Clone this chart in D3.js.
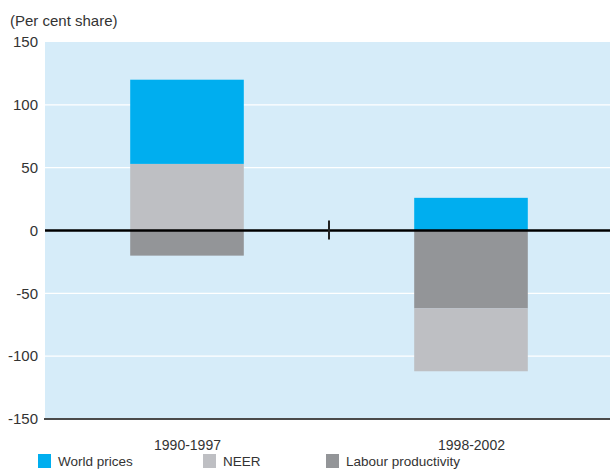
<!DOCTYPE html>
<html>
<head>
<meta charset="utf-8">
<script src="https://cdn.jsdelivr.net/npm/d3@7"></script>
<style>
  html, body { margin: 0; padding: 0; background: #fff; }
  svg { display: block; }
  text { font-family: "Liberation Sans", Arial, Helvetica, sans-serif; fill: #333; }
</style>
</head>
<body>
<svg id="chart" width="610" height="470"></svg>
<script>
// Contributions to the change, per cent share
const categories = ["1990-1997", "1998-2002"];
const worldPrices = [67, 26];
const neer = [53, -50];
const labourProductivity = [-20, -62];
const yTicks = [-150, -100, -50, 0, 50, 100, 150];

const seriesKeys = ["Labour productivity", "NEER", "World prices"];
const seriesValues = {
  "World prices": worldPrices,
  "NEER": neer,
  "Labour productivity": labourProductivity
};
const colors = {
  "World prices": "#00aeef",
  "NEER": "#bebfc3",
  "Labour productivity": "#939598"
};
const legendOrder = ["World prices", "NEER", "Labour productivity"];

const rows = categories.map((c, i) => {
  const r = { category: c };
  seriesKeys.forEach(k => r[k] = seriesValues[k][i]);
  return r;
});

const svg = d3.select("#chart");
const plot = { left: 45, right: 613, top: 42, bottom: 419 };

const x = d3.scalePoint().domain(categories).range([plot.left, plot.right]).padding(0.5);
const y = d3.scaleLinear().domain([-150, 150]).range([plot.bottom, plot.top]);
const barW = x.step() * 0.4;

// background
svg.append("rect")
  .attr("x", plot.left).attr("y", plot.top)
  .attr("width", plot.right - plot.left).attr("height", plot.bottom - plot.top)
  .attr("fill", "#d6ecf9");

// white gridlines
svg.append("g").selectAll("line")
  .data(yTicks.filter(t => t !== 0 && t !== -150 && t !== 150))
  .join("line")
  .attr("x1", plot.left).attr("x2", plot.right)
  .attr("y1", d => y(d)).attr("y2", d => y(d))
  .attr("stroke", "#fff").attr("stroke-width", 1.3);

// stacked bars
const stacked = d3.stack().keys(seriesKeys).offset(d3.stackOffsetDiverging)(rows);
svg.append("g").selectAll("g")
  .data(stacked)
  .join("g")
  .attr("fill", d => colors[d.key])
  .selectAll("rect")
  .data(d => d)
  .join("rect")
  .attr("x", d => x(d.data.category) - barW / 2)
  .attr("width", barW)
  .attr("y", d => y(Math.max(d[0], d[1])))
  .attr("height", d => Math.abs(y(d[0]) - y(d[1])));

// zero line
svg.append("line")
  .attr("x1", plot.left).attr("x2", plot.right)
  .attr("y1", y(0)).attr("y2", y(0))
  .attr("stroke", "#000").attr("stroke-width", 2.5);

// divider tick between the two periods
const mid = (x(categories[0]) + x(categories[1])) / 2;
svg.append("line")
  .attr("x1", mid).attr("x2", mid)
  .attr("y1", y(0) - 10).attr("y2", y(0) + 9)
  .attr("stroke", "#222").attr("stroke-width", 2);

// bottom axis line
svg.append("line")
  .attr("x1", plot.left - 1).attr("x2", plot.right)
  .attr("y1", plot.bottom).attr("y2", plot.bottom)
  .attr("stroke", "#4a4a4a").attr("stroke-width", 2);

// y axis labels (plain hyphen for negatives)
const yAxis = d3.axisLeft(y).tickValues(yTicks).tickSize(0).tickPadding(7)
  .tickFormat(d => String(d));
const gy = svg.append("g").attr("transform", `translate(${plot.left},0)`).call(yAxis);
gy.select(".domain").remove();
gy.selectAll("text")
  .style("font-family", '"Liberation Sans", Arial, sans-serif')
  .style("font-size", "15px").attr("fill", "#333");

// x axis labels
const xAxis = d3.axisBottom(x).tickSize(0).tickPadding(0);
const gx = svg.append("g").attr("transform", `translate(0,${plot.bottom + 21})`).call(xAxis);
gx.select(".domain").remove();
gx.selectAll("text")
  .style("font-family", '"Liberation Sans", Arial, sans-serif')
  .style("font-size", "14px").attr("fill", "#333");

// unit label
svg.append("text")
  .attr("x", 10).attr("y", 26)
  .style("font-size", "15px")
  .text("(Per cent share)");

// legend
const legendX = [38, 203, 326];
const lg = svg.append("g").selectAll("g")
  .data(legendOrder)
  .join("g")
  .attr("transform", (d, i) => `translate(${legendX[i]},454)`);
lg.append("rect").attr("width", 13).attr("height", 14).attr("fill", d => colors[d]);
lg.append("text").attr("x", 20).attr("y", 12)
  .style("font-size", "13.5px")
  .text(d => d);
</script>
</body>
</html>
